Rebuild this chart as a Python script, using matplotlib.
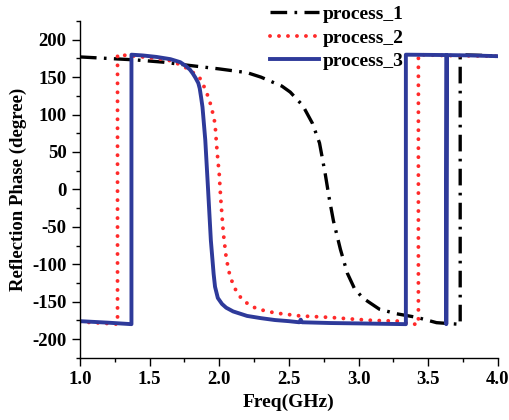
import matplotlib
matplotlib.use('Agg')
import matplotlib.pyplot as plt
from matplotlib.ticker import MultipleLocator

plt.rcParams['font.family'] = 'Liberation Serif'
plt.rcParams['font.weight'] = 'bold'
plt.rcParams['axes.unicode_minus'] = False

# process_1 (dash-dot black)
freq_1 = [1.0, 1.2, 1.4, 1.6, 1.77, 2.0, 2.2, 2.3, 2.4, 2.45, 2.51, 2.55, 2.6,
          2.67, 2.72, 2.76, 2.79, 2.82, 2.87, 2.92, 2.97, 3.03, 3.15, 3.27, 3.42,
          3.56, 3.71, 3.73, 3.73, 3.8, 3.9, 4.0]
phase_1 = [177, 175, 173, 170, 166, 161, 156, 150, 142, 138, 130, 122, 112,
           88, 62, 22, -12, -42, -80, -112, -132, -145, -160, -166, -171,
           -178, -180, -181, 180, 179.5, 179, 178]

# process_2 (dotted red)
freq_2 = [1.0, 1.15, 1.27, 1.27, 1.4, 1.55, 1.65, 1.74, 1.8, 1.86, 1.9, 1.93,
          1.95, 1.97, 1.98, 1.99, 2.0, 2.01, 2.02, 2.03, 2.05, 2.07, 2.09, 2.12,
          2.16, 2.22, 2.28, 2.4, 2.58, 2.8, 2.94, 3.1, 3.3, 3.37, 3.43, 3.43,
          3.6, 3.8, 4.0]
phase_2 = [-177, -178.5, -180, 180, 178, 175, 172, 165, 158, 149, 134, 119,
           105, 88, 62, 40, 21, -10, -35, -59, -91, -110, -122, -135,
           -146, -155, -160, -165, -169, -171, -173, -175, -176, -180, -180, 180,
           179, 178.5, 178]

# process_3 (solid blue)
freq_3 = [1.0, 1.2, 1.37, 1.37, 1.45, 1.55, 1.65, 1.72, 1.76, 1.79, 1.81, 1.83,
          1.85, 1.86, 1.87, 1.88, 1.9, 1.92, 1.94, 1.96, 1.97, 1.99, 2.02, 2.05,
          2.1, 2.2, 2.3, 2.4, 2.5, 2.575, 2.585, 2.595, 2.8, 3.0, 3.34, 3.34,
          3.63, 3.63, 3.635, 3.8, 4.0]
phase_3 = [-176, -178, -180, 180, 179, 177, 174, 170, 165, 160, 155, 149,
           142, 135, 123, 110, 66, 0, -68, -113, -130, -145, -153, -158,
           -163, -169, -172, -174.5, -176, -177.5, -174, -177.5, -178.5, -179, -180, 180,
           179.5, -180, 179.5, 179, 178]

fig = plt.figure(figsize=(5.09, 4.2), dpi=100)
ax = fig.add_axes([0.157, 0.148, 0.821, 0.802])

ax.plot(freq_1, phase_1, color='black', lw=2.4, linestyle=(0, (5, 2.2, 0.8, 2.2)),
        label='process_1')
ax.plot(freq_2, phase_2, color='#ff2a2a', lw=2.8, linestyle=(0, (0.01, 2.3)),
        dash_capstyle='round', label='process_2')
ax.plot(freq_3, phase_3, color='#2e3a9a', lw=2.8, label='process_3')

ax.set_xlim(1.0, 4.0)
ax.set_ylim(-225, 225)
ax.xaxis.set_major_locator(MultipleLocator(0.5))
ax.xaxis.set_minor_locator(MultipleLocator(0.25))
ax.yaxis.set_major_locator(MultipleLocator(50))
ax.yaxis.set_minor_locator(MultipleLocator(25))
ax.xaxis.set_major_formatter(plt.FormatStrFormatter('%.1f'))

for side in ['top', 'right']:
    ax.spines[side].set_visible(False)
for side in ['left', 'bottom']:
    ax.spines[side].set_linewidth(1.0)
ax.tick_params(which='major', direction='out', length=6, width=1, labelsize=13.5)
ax.tick_params(which='minor', direction='out', length=3, width=1)

ax.set_xlabel('Freq(GHz)', fontsize=14, fontweight='bold')
ax.set_ylabel('Reflection Phase (degree)', fontsize=13.5, fontweight='bold')

fig.legend(loc='upper left', bbox_to_anchor=(0.515, 1.005), frameon=False,
           fontsize=14, handlelength=2.5, handletextpad=0.2, labelspacing=0.3,
           borderaxespad=0)

plt.savefig('out.png', dpi=100)
plt.close()
